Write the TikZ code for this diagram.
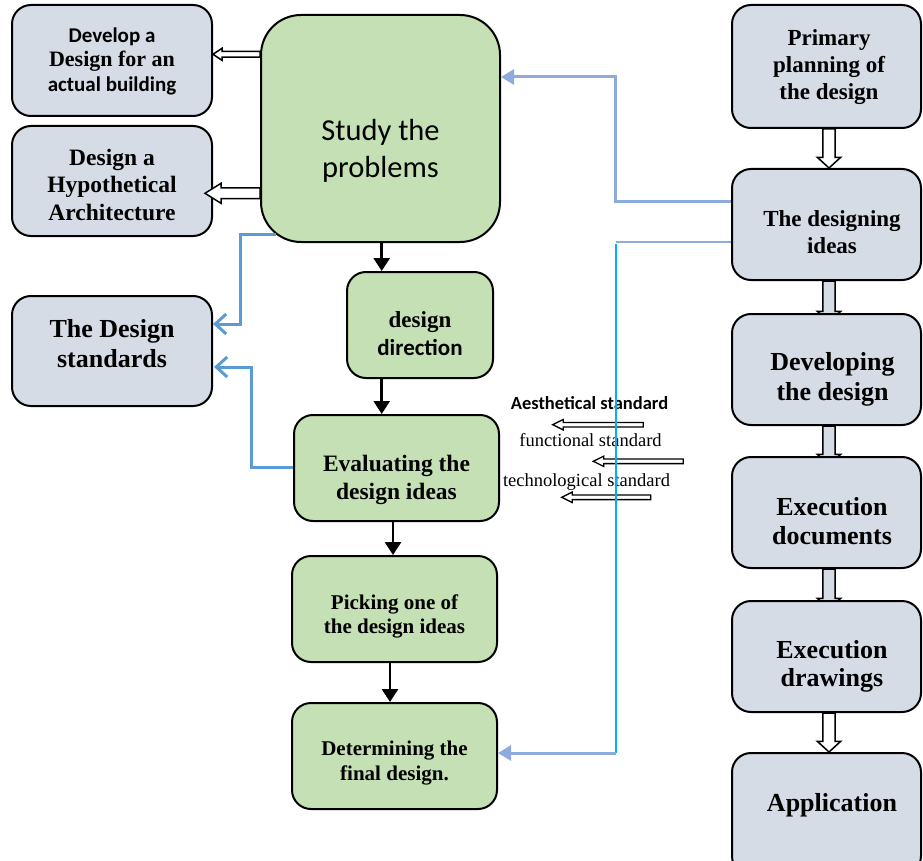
\documentclass[tikz,border=0pt]{standalone}
\usepackage{fontspec}
\setmainfont{Liberation Serif}
\newfontfamily\calfont{Carlito}
\usetikzlibrary{arrows.meta,calc,backgrounds}
\definecolor{gfill}{HTML}{C5E0B4}
\definecolor{bfill}{HTML}{D6DCE5}
\definecolor{lnA}{HTML}{5B9BD5}
\definecolor{lnB}{HTML}{8FAADC}
\definecolor{lnC}{HTML}{00B0F0}
\newcommand{\fs}[2]{\fontsize{#1}{#2}\selectfont}
% vertical hollow block arrow between two named nodes
\newcommand{\vblock}[4]{%
 \draw[hollow, fill=#4] ($(#1.south)+(-3.7,0)$) -- ($(#2.north)+(-3.7,#3-10.7)$) -- ($(#2.north)+(-9.2,#3-10.7)$) -- ($(#2.north)+(2.5,#3)$) -- ($(#2.north)+(14.2,#3-10.7)$) -- ($(#2.north)+(8.7,#3-10.7)$) -- ($(#1.south)+(8.7,0)$) -- cycle;}
% horizontal hollow block arrow pointing left
\newcommand{\hblock}[6]{%
 \draw[hollow,#6] ($(#1)+(0,-#3)$) -- ($(#2)+(#5,-#3)$) -- ($(#2)+(#5,-#4)$) -- (#2) -- ($(#2)+(#5,#4)$) -- ($(#2)+(#5,#3)$) -- ($(#1)+(0,#3)$) -- cycle;}
\tikzset{
 box/.style={draw=black, line width=2pt, rounded corners=19pt, inner sep=0pt},
 gbox/.style={box, fill=gfill},
 bbox/.style={box, fill=bfill},
 txt/.style={align=center, inner sep=0pt, text=black},
 flow/.style={line width=2.8pt, -{Triangle[length=13pt,width=16pt]}},
 hollow/.style={draw=black, line width=1.5pt, fill=white, line join=miter},
 linkA/.style={draw=lnA, line width=3pt, -{Straight Barb[length=11pt,width=20pt]}},
 linkB/.style={draw=lnB, line width=3pt, -{Triangle[length=13pt,width=15pt]}},
}
\begin{document}
\begin{tikzpicture}[x=1pt,y=-1pt]
\useasboundingbox (0,0) rectangle (923,861);
% ---------- left column
\node[bbox, minimum width=200pt, minimum height=111pt] (dev) at (112,60.5) {};
\node[txt, font=\bfseries\fs{21}{24.5}] (dev-t) at (112,61) {{\calfont Develop a}\\{\fs{22}{24.5}Design for an}\\{\calfont actual building}};
\node[bbox, minimum width=200pt, minimum height=110pt] (hyp) at (112,181) {};
\node[txt, font=\bfseries\fs{23.5}{27.5}] (hyp-t) at (112,184.5) {Design a\\Hypothetical\\Architecture};
\node[bbox, minimum width=200pt, minimum height=110pt] (std) at (112,351) {};
\node[txt, font=\bfseries\fs{26}{30.6}] (std-t) at (112,343.5) {The Design\\standards};
% ---------- middle column
\node[gbox, rounded corners=40pt, minimum width=239pt, minimum height=227pt] (study) at (380.5,128.5) {};
\node[txt, font=\calfont\fs{30.5}{37}] (study-t) at (380.5,150.5) {Study the\\problems};
\node[gbox, minimum width=146pt, minimum height=106pt] (dir) at (420,325) {};
\node[txt, font=\bfseries\fs{23}{27.6}] (dir-t) at (420,333.5) {design\\{\calfont direction}};
\node[gbox, minimum width=205pt, minimum height=106pt] (eval) at (396.5,468) {};
\node[txt, font=\bfseries\fs{23.5}{28}] (eval-t) at (396.5,479.5) {Evaluating the\\design ideas};
\node[gbox, minimum width=205pt, minimum height=106pt] (pick) at (394.5,609) {};
\node[txt, font=\bfseries\fs{21}{24.4}] (pick-t) at (394.5,616.5) {Picking one of\\the design ideas};
\node[gbox, minimum width=205pt, minimum height=106pt] (det) at (394.5,756) {};
\node[txt, font=\bfseries\fs{21}{25}] (det-t) at (394.5,763.5) {Determining the\\final design.};
% ---------- right column
\node[bbox, minimum width=189pt, minimum height=123pt] (prim) at (826.5,66.5) {};
\node[txt, font=\bfseries\fs{23}{27}] (prim-t) at (829,67) {Primary\\planning of\\the design};
\node[bbox, minimum width=189pt, minimum height=111pt] (idea) at (826.5,224.5) {};
\node[txt, font=\bfseries\fs{23}{26.3}] (idea-t) at (832,232) {The designing\\ideas};
\node[bbox, minimum width=189pt, minimum height=111pt] (devl) at (826.5,369.5) {};
\node[txt, font=\bfseries\fs{26}{30}] (devl-t) at (832.5,379) {Developing\\the design};
\node[bbox, minimum width=189pt, minimum height=111pt] (doc) at (826.5,512.5) {};
\node[txt, font=\bfseries\fs{26}{29}] (doc-t) at (832,521) {Execution\\documents};
\node[bbox, minimum width=189pt, minimum height=111pt] (drw) at (826.5,656.5) {};
\node[txt, font=\bfseries\fs{26}{28.5}] (drw-t) at (832,666.5) {Execution\\drawings};
\node[bbox, minimum width=189pt, minimum height=122pt] (app) at (826.5,814) {};
\node[txt, font=\bfseries\fs{26}{30}] (app-t) at (832,805) {Application};
% ---------- standards labels
\node[txt, anchor=base, font=\calfont\bfseries\fs{18.5}{22}] (aes) at (589.5,409) {Aesthetical standard};
\node[txt, anchor=base, font=\fs{18.5}{22}] (fun) at (590.5,446.7) {functional standard};
\node[txt, anchor=base, font=\fs{18.5}{22}] (tec) at (586.5,486.7) {technological standard};
% ---------- right column block arrows (behind boxes)
\begin{pgfonlayer}{background}
\vblock{prim}{idea}{0}{white}
\vblock{idea}{devl}{9}{bfill}
\vblock{devl}{doc}{9}{bfill}
\vblock{doc}{drw}{9}{bfill}
\vblock{drw}{app}{0}{white}
\end{pgfonlayer}
% ---------- left hollow arrows
\coordinate (a1s) at (study.west |- 0,54.3);
\coordinate (a1e) at (dev.east |- 0,54.3);
\coordinate (a2s) at (study.west |- 0,193.3);
\coordinate (a2e) at ($(hyp.east |- 0,193.3)+(-8,0)$);
\hblock{a1s}{a1e}{2.8}{6}{9}{}
\hblock{a2s}{a2e}{5.3}{10}{16}{}
% ---------- standards hollow arrows
\coordinate (s1s) at (643.3,424.7);
\coordinate (s1e) at (552.7,424.7);
\coordinate (s2s) at (683.3,461.3);
\coordinate (s2e) at (593.3,461.3);
\coordinate (s3s) at (650.7,497.3);
\coordinate (s3e) at (561.7,497.3);
\hblock{s1s}{s1e}{2.3}{5.2}{10.5}{line width=1.3pt}
\hblock{s2s}{s2e}{2.3}{5.2}{10.5}{line width=1.3pt}
\hblock{s3s}{s3e}{2.3}{5.2}{10.5}{line width=1.3pt}
% ---------- black flow arrows
\draw[flow] (study.south) ++(1.2,0) coordinate (f1) -- (f1 |- dir.north);
\draw[flow] (f1 |- dir.south) -- (f1 |- eval.north);
\draw[flow] ($(eval.south)+(-3.5,0)$) coordinate (f3) -- (f3 |- pick.north);
\draw[flow] ($(pick.south)+(-4.5,0)$) coordinate (f4) -- (f4 |- det.north);
% ---------- blue links
\draw[linkA] ($(study.south west)+(15.5,-9)$) -- ++(-35.5,0) |- ($(std.east)+(0,-27)$);
\draw[linkA] (eval.west |- 0,467) -- ++(-42,0) |- ($(std.east)+(1,16)$);
\draw[linkB] ($(idea.west)+(0,-22.5)$) -- ++(-116,0) |- ($(study.east)+(0,-51.5)$);
\coordinate (c4a) at ($(idea.west)+(0,17.5)$);
\coordinate (c4b) at ($(c4a)+(-115,0)$);
\coordinate (c4d) at ($(det.east)+(0,-3)$);
\coordinate (c4c) at (c4b |- c4d);
\draw[draw=lnB, line width=2.2pt] (c4a) -- (c4b);
\draw[draw=lnC, line width=2.2pt] ($(c4b)+(0,2)$) -- (c4c);
\draw[linkB] (c4c) -- (c4d);
\end{tikzpicture}
\end{document}
